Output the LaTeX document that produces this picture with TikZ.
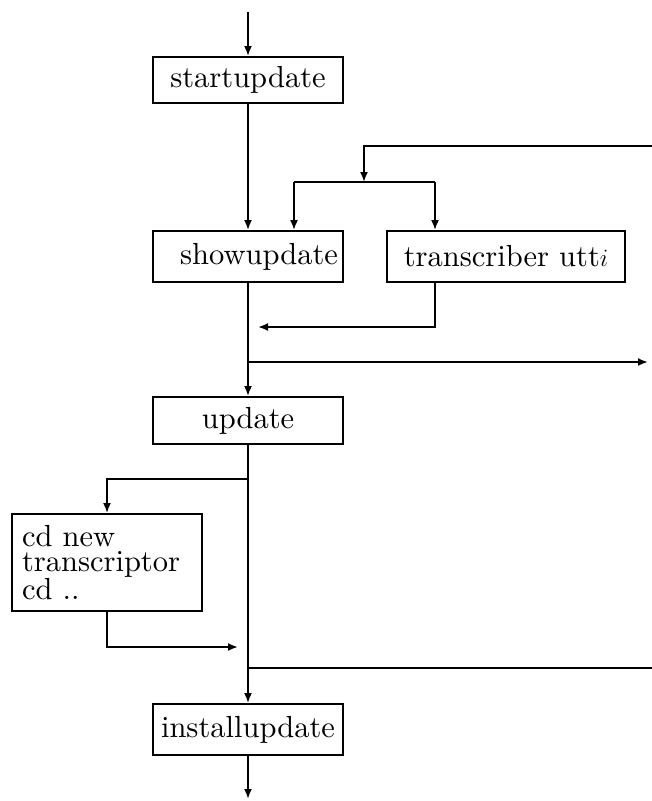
\documentclass[tikz,border=0pt]{standalone}
\usepackage{fontspec}
\setmainfont{lmroman10-regular}[Extension=.otf,ItalicFont=lmroman10-italic,BoldFont=lmroman10-bold]
\usetikzlibrary{arrows.meta}
\begin{document}
\begin{tikzpicture}[x=1pt,y=-1pt,
  line width=1.9pt,
  every node/.style={font=\fontsize{30.5}{24.5}\selectfont},
  flowbox/.style={draw,rectangle,minimum width=190pt,inner sep=0pt,line width=1.9pt},
  arr/.style={-{Latex[length=10pt,width=8pt]}}]
\useasboundingbox (0,0) rectangle (652,801);
% nodes
\node[flowbox,minimum height=46pt] (start) at (248,80) {startupdate};
\node[flowbox,minimum height=51pt,text width=180pt,align=right] (show) at (248,256.5) {showupdate};
\node[flowbox,minimum width=238pt,minimum height=51pt] (trans) at (506,256.5) {transcriber utt$i$};
\node[flowbox,minimum height=47pt] (upd) at (248,420.5) {update};
\node[flowbox,minimum height=97pt,text width=170pt,inner xsep=10pt,align=left] (cd) at (107,562.5) {cd new\\transcriptor\\cd ..};
\node[flowbox,minimum height=51pt] (inst) at (248,729.5) {installupdate};
% coordinates
\coordinate (topin) at (248,12);
\coordinate (r1) at (652,146);
\coordinate (c1) at (364,146);
\coordinate (c2) at (364,182);
\coordinate (s1) at (294,182);
\coordinate (s2) at (435,182);
\coordinate (t1) at (435,327);
\coordinate (t2) at (258,327);
\coordinate (b1) at (248,362);
\coordinate (b1e) at (648,362);
\coordinate (b2) at (248,479);
\coordinate (b2l) at (107,479);
\coordinate (d1) at (107,647);
\coordinate (d2) at (238,647);
\coordinate (b3) at (248,668);
\coordinate (b3e) at (652,668);
\coordinate (bot) at (248,799);
% connectors
\draw[arr] (topin) -- (start.north);
\draw[arr] (start.south) -- (show.north);
\draw[arr] (r1) -- (c1) -- (c2);
\draw (s1) -- (s2);
\draw[arr] (s1) -- (s1 |- show.north);
\draw[arr] (s2) -- (s2 |- trans.north);
\draw[arr] (s2 |- trans.south) -- (t1) -- (t2);
\draw[arr] (show.south) -- (upd.north);
\draw[arr] (b1) -- (b1e);
\draw[arr] (upd.south) -- (inst.north);
\draw[arr] (b2) -- (b2l) -- (cd.north);
\draw[arr] (cd.south) -- (d1) -- (d2);
\draw (b3) -- (b3e);
\draw[arr] (inst.south) -- (bot);
\end{tikzpicture}
\end{document}
